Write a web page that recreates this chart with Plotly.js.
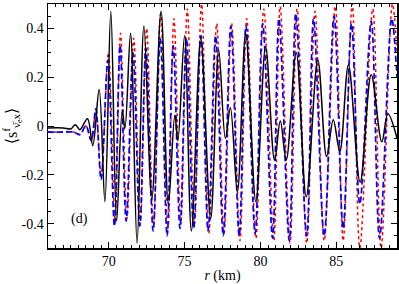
<!DOCTYPE html>
<html>
<head>
<meta charset="utf-8">
<script src="https://cdn.plot.ly/plotly-3.0.1.min.js"></script>
<style>html,body{margin:0;padding:0;background:#fff;}#chart{width:399px;height:284px;}</style>
</head>
<body>
<div id="chart"></div>
<script>
// Black solid series (extrema)
const blackR = [66.0, 67.0, 67.5, 67.8, 68.1, 68.6, 68.95, 69.37, 69.75, 70.14, 70.52, 70.89, 71.07, 71.44, 71.87, 72.32, 72.84, 73.45, 73.93, 74.36, 74.56, 75.0, 75.45, 76.07, 76.72, 77.25, 77.69, 78.02, 78.48, 79.03, 79.7, 80.34, 80.93, 81.31, 81.7, 82.36, 83.02, 83.78, 84.36, 84.8, 85.23, 85.8, 86.57, 87.3, 88.0, 88.4, 89.0];
const blackS = [-0.008, -0.008, -0.012, 0.005, -0.015, 0.03, -0.08, 0.15, -0.31, 0.47, -0.39, 0.06, -0.01, 0.38, -0.48, 0.41, -0.30, 0.47, -0.32, 0.045, -0.06, 0.37, -0.43, 0.36, -0.38, 0.31, -0.05, 0.075, -0.27, 0.38, -0.31, 0.325, -0.14, 0.02, -0.14, 0.30, -0.29, 0.27, -0.125, 0.026, -0.105, 0.25, -0.23, 0.21, -0.065, 0.05, -0.05];

// Blue dashed series
const blueR = [66.0, 67.0, 67.7, 68.1, 68.5, 68.85, 69.15, 69.5, 69.95, 70.38, 70.75, 71.15, 71.6, 72.05, 72.45, 72.93, 73.4, 73.85, 74.25, 74.7, 75.12, 75.6, 76.08, 76.55, 77.05, 77.55, 78.05, 78.6, 79.05, 79.65, 80.15, 80.8, 81.22, 81.9, 82.33, 83.05, 83.5, 84.2, 84.85, 85.45, 86.0, 86.55, 87.3, 87.85, 88.65, 89.0];
const blueS = [-0.025, -0.025, -0.025, -0.035, 0.0, -0.06, 0.07, -0.22, 0.27, -0.41, 0.33, -0.39, 0.30, -0.41, 0.32, -0.43, 0.36, -0.45, 0.33, -0.42, 0.36, -0.42, 0.37, -0.43, 0.37, -0.45, 0.41, -0.45, 0.41, -0.44, 0.42, -0.46, 0.44, -0.47, 0.46, -0.45, 0.44, -0.45, 0.45, -0.42, 0.42, -0.32, 0.43, -0.46, 0.44, 0.2];

// Red dotted series
const redR = [66.0, 67.0, 67.7, 68.1, 68.5, 68.85, 69.15, 69.5, 69.98, 70.42, 70.78, 71.2, 71.65, 72.08, 72.5, 72.95, 73.42, 73.9, 74.3, 74.75, 75.18, 75.65, 76.12, 76.6, 77.12, 77.6, 78.1, 78.65, 79.1, 79.7, 80.22, 80.88, 81.3, 81.95, 82.42, 83.05, 83.6, 84.2, 84.93, 85.45, 86.05, 86.55, 87.4, 87.95, 88.7, 89.0];
const redS = [-0.025, -0.025, -0.025, -0.035, 0.0, -0.06, 0.06, -0.2, 0.30, -0.39, 0.38, -0.38, 0.36, -0.40, 0.40, -0.40, 0.46, -0.42, 0.44, -0.40, 0.48, -0.40, 0.50, -0.44, 0.42, -0.44, 0.42, -0.47, 0.44, -0.46, 0.48, -0.47, 0.49, -0.48, 0.48, -0.48, 0.47, -0.47, 0.49, -0.47, 0.50, -0.50, 0.48, -0.50, 0.50, 0.3];

const xRange = [66, 89];
const yRange = [-0.5, 0.5];
const xTicks = [70, 75, 80, 85];
const xTickText = ['70', '75', '80', '85'];
const yTicks = [-0.4, -0.2, 0, 0.2, 0.4];
const yTickText = ['-0.4', '-0.2', '0', '0.2', '0.4'];

const font = {family: '"Liberation Serif", "DejaVu Serif", serif', size: 14, color: '#000'};

const traces = [
  {x: redR, y: redS, mode: 'lines', line: {color: '#ff0000', width: 1.5, dash: 'dot', shape: 'spline', smoothing: 1}, hoverinfo: 'skip'},
  {x: blueR, y: blueS, mode: 'lines', line: {color: '#0000ff', width: 1.7, dash: '6px,3px', shape: 'spline', smoothing: 1}, hoverinfo: 'skip'},
  {x: blackR, y: blackS, mode: 'lines', line: {color: '#000000', width: 1.5, shape: 'spline', smoothing: 1}, hoverinfo: 'skip'},
  // invisible trace to activate the mirrored (top/right) tick axes
  {x: xRange, y: yRange, xaxis: 'x2', yaxis: 'y2', mode: 'lines', line: {width: 0}, opacity: 0, hoverinfo: 'skip'}
];

const axisCommon = {
  showline: true, linecolor: '#000', linewidth: 1.5, mirror: true,
  ticks: 'inside', ticklen: 6, tickwidth: 1, tickcolor: '#000',
  showgrid: false, zeroline: false, tickfont: font, tickmode: 'array'
};

const layout = {
  width: 399, height: 284,
  margin: {l: 48, r: 2, t: 4, b: 36},
  paper_bgcolor: '#fff', plot_bgcolor: '#fff',
  showlegend: false,
  font: font,
  xaxis: Object.assign({}, axisCommon, {
    range: xRange, tickvals: xTicks, ticktext: xTickText,
    minor: {ticks: 'inside', dtick: 0.5, tick0: 66, ticklen: 3, tickcolor: '#000', showgrid: false},
    title: {text: '<i>r</i> (km)', font: font, standoff: 2}
  }),
  yaxis: Object.assign({}, axisCommon, {
    range: yRange, tickvals: yTicks, ticktext: yTickText,
    minor: {ticks: 'inside', dtick: 0.05, tick0: 0, ticklen: 3, tickcolor: '#000', showgrid: false},
    title: {text: '⟨s<sup>f</sup><sub>ν̄<sub>e</sub>x</sub>⟩', font: {family: font.family, size: 16, color: '#000'}, standoff: 4}
  }),
  xaxis2: {
    overlaying: 'x', side: 'top', anchor: 'y', range: xRange, showline: false,
    ticks: 'inside', ticklen: 6, tickwidth: 1, tickcolor: '#000', showticklabels: false,
    tickmode: 'array', tickvals: xTicks, showgrid: false, zeroline: false,
    minor: {ticks: 'inside', dtick: 0.5, tick0: 66, ticklen: 3, tickcolor: '#000', showgrid: false}
  },
  yaxis2: {
    overlaying: 'y', side: 'right', anchor: 'x', range: yRange, showline: false,
    ticks: 'inside', ticklen: 6, tickwidth: 1, tickcolor: '#000', showticklabels: false,
    tickmode: 'array', tickvals: yTicks, showgrid: false, zeroline: false,
    minor: {ticks: 'inside', dtick: 0.05, tick0: 0, ticklen: 3, tickcolor: '#000', showgrid: false}
  },
  annotations: [
    {x: 68.05, y: -0.383, xref: 'x', yref: 'y', text: '(d)', showarrow: false, font: font}
  ]
};

Plotly.newPlot('chart', traces, layout, {staticPlot: true, displayModeBar: false});
</script>
</body>
</html>
